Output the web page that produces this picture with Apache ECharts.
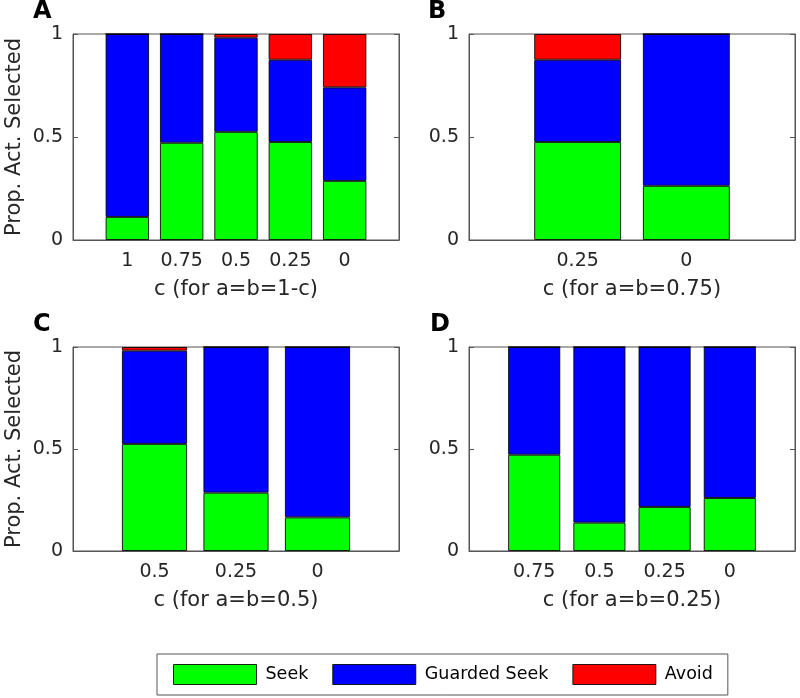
<!DOCTYPE html>
<html>
<head>
<meta charset="utf-8">
<script src="https://cdn.jsdelivr.net/npm/echarts@6/dist/echarts.min.js"></script>
<style>html,body{margin:0;padding:0;background:#fff;}#c{width:800px;height:698px;}</style>
</head>
<body>
<div id="c"></div>
<script>
// ---- data ----
const seriesNames = ['Seek', 'Guarded Seek', 'Avoid'];
const catsA = ['1', '0.75', '0.5', '0.25', '0'];
const seekA = [0.112, 0.472, 0.525, 0.476, 0.287];
const guardA = [0.888, 0.528, 0.457, 0.399, 0.454];
const avoidA = [0, 0, 0.018, 0.125, 0.259];

const catsB = ['0.25', '0'];
const seekB = [0.476, 0.263];
const guardB = [0.399, 0.737];
const avoidB = [0.125, 0];

const catsC = ['0.5', '0.25', '0'];
const seekC = [0.525, 0.286, 0.165];
const guardC = [0.457, 0.714, 0.835];
const avoidC = [0.018, 0, 0];

const catsD = ['0.75', '0.5', '0.25', '0'];
const seekD = [0.472, 0.139, 0.216, 0.260];
const guardD = [0.528, 0.861, 0.784, 0.740];
const avoidD = [0, 0, 0, 0];

const yTicks = [0, 0.5, 1];
const panelLetters = ['A', 'B', 'C', 'D'];
const xTitles = ['c (for a=b=1-c)', 'c (for a=b=0.75)', 'c (for a=b=0.5)', 'c (for a=b=0.25)'];
const yTitle = 'Prop. Act. Selected';

// ---- build ----
const panels = [
  {cats: catsA, vals: [seekA, guardA, avoidA]},
  {cats: catsB, vals: [seekB, guardB, avoidB]},
  {cats: catsC, vals: [seekC, guardC, avoidC]},
  {cats: catsD, vals: [seekD, guardD, avoidD]}
];
const colors = ['#00ff00', '#0000ff', '#ff0000'];
const FONT = 'DejaVu Sans';
const TXT = '#262626';
const FRAME = '#555555';

const gridPos = [
  {left: 73, top: 34, width: 326, height: 206},
  {left: 469, top: 34, width: 326, height: 206},
  {left: 73, top: 347, width: 326, height: 204},
  {left: 469, top: 347, width: 326, height: 204}
];
const letterPos = [[33, 0], [428, 0], [33, 313], [430, 313]];

const grid = [], xAxis = [], yAxis = [], series = [], title = [];
panels.forEach((p, i) => {
  grid.push(Object.assign({show: true, borderColor: FRAME, borderWidth: 1, backgroundColor: 'transparent'}, gridPos[i]));
  xAxis.push({
    type: 'category', gridIndex: i, boundaryGap: false,
    data: [''].concat(p.cats).concat(['']),
    axisLine: {lineStyle: {color: FRAME}},
    axisTick: {show: true, inside: true, length: 5, lineStyle: {color: FRAME}},
    axisLabel: {fontFamily: FONT, fontSize: 19, color: TXT, margin: 12, interval: 0},
    name: xTitles[i], nameLocation: 'middle', nameGap: 39,
    nameTextStyle: {fontFamily: FONT, fontSize: 21, color: TXT},
    splitLine: {show: false}
  });
  yAxis.push({
    type: 'value', gridIndex: i, min: 0, max: 1, interval: 0.5,
    axisLine: {show: true, lineStyle: {color: FRAME}},
    axisTick: {show: true, inside: true, length: 5, lineStyle: {color: FRAME}},
    axisLabel: {fontFamily: FONT, fontSize: 19, color: TXT, margin: 10},
    splitLine: {show: false},
    name: (i % 2 === 0) ? yTitle : '', nameLocation: 'middle', nameGap: 48, nameRotate: 90,
    nameTextStyle: {fontFamily: FONT, fontSize: 21, color: TXT}
  });
  yAxis.push({
    type: 'value', gridIndex: i, min: 0, max: 1, interval: 0.5, position: 'right',
    axisLine: {show: true, lineStyle: {color: FRAME}},
    axisTick: {show: true, inside: true, length: 5, lineStyle: {color: FRAME}},
    axisLabel: {show: false}, splitLine: {show: false}
  });
  p.vals.forEach((arr, k) => {
    series.push({
      name: seriesNames[k], type: 'bar', stack: 'p' + i,
      xAxisIndex: i, yAxisIndex: i * 2,
      barWidth: '80%',
      data: [null].concat(arr).concat([null]),
      itemStyle: {color: colors[k], borderColor: 'rgba(0,0,0,0.85)', borderWidth: 1},
      emphasis: {disabled: true}, animation: false
    });
  });
  title.push({
    text: panelLetters[i], left: letterPos[i][0], top: letterPos[i][1], padding: 0,
    textStyle: {fontFamily: FONT, fontSize: 24, fontWeight: 'bold', color: '#000'}
  });
});

const chart = echarts.init(document.getElementById('c'), null, {renderer: 'canvas'});
chart.setOption({
  animation: false,
  title: title,
  grid: grid, xAxis: xAxis, yAxis: yAxis, series: series,
  legend: {
    data: seriesNames, left: 157, top: 654, orient: 'horizontal',
    itemWidth: 83, itemHeight: 20, itemGap: 24,
    padding: [10, 15, 10, 16],
    borderColor: FRAME, borderWidth: 1,
    selectedMode: false,
    icon: 'rect',
    itemStyle: {borderColor: 'rgba(0,0,0,0.85)', borderWidth: 1},
    textStyle: {fontFamily: FONT, fontSize: 17.5, color: '#000', padding: [0, 0, 0, 4]}
  }
});
</script>
</body>
</html>
